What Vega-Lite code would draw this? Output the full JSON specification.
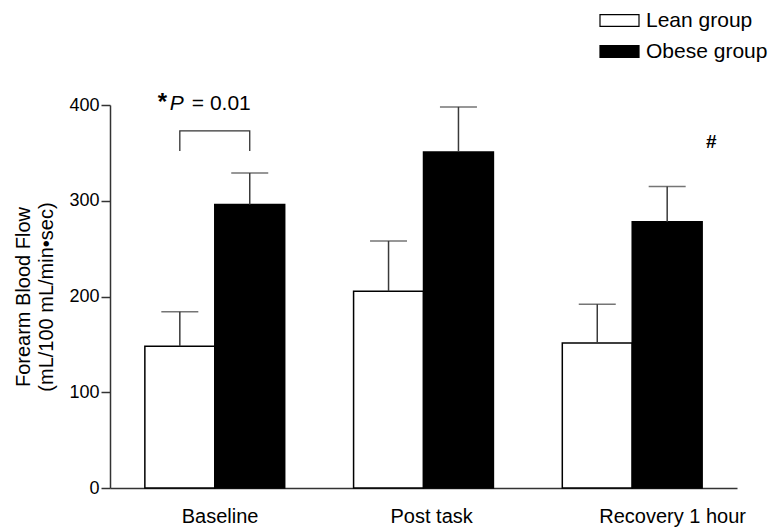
{
  "$schema": "https://vega.github.io/schema/vega-lite/v6.json",
  "width": 627,
  "height": 383,
  "autosize": {"type": "none"},
  "padding": {"left": 110, "top": 105, "right": 36, "bottom": 39},
  "background": "white",
  "config": {"font": "Liberation Sans", "view": {"stroke": null}, "axis": {"grid": false}},
  "datasets": {
    "bars": [
      {"Time": "Baseline", "Group": "Lean group", "mean": 148, "upper": 184},
      {"Time": "Baseline", "Group": "Obese group", "mean": 296, "upper": 329},
      {"Time": "Post task", "Group": "Lean group", "mean": 205.5, "upper": 258},
      {"Time": "Post task", "Group": "Obese group", "mean": 351, "upper": 398},
      {"Time": "Recovery 1 hour", "Group": "Lean group", "mean": 151.5, "upper": 192},
      {"Time": "Recovery 1 hour", "Group": "Obese group", "mean": 278, "upper": 315}
    ],
    "bracket": [
      {"Time": "Baseline", "Group": "Lean group", "y": 352, "o": 1},
      {"Time": "Baseline", "Group": "Lean group", "y": 373, "o": 2},
      {"Time": "Baseline", "Group": "Obese group", "y": 373, "o": 3},
      {"Time": "Baseline", "Group": "Obese group", "y": 352, "o": 4}
    ],
    "notes": [
      {"Time": "Baseline", "y": 401}
    ],
    "hash": [
      {"Time": "Recovery 1 hour", "Group": "Obese group", "y": 361}
    ]
  },
  "layer": [
    {
      "data": {"name": "bars"},
      "mark": {"type": "bar", "stroke": "black", "strokeWidth": 1.5},
      "encoding": {
        "x": {"field": "Time", "type": "nominal", "sort": ["Baseline", "Post task", "Recovery 1 hour"],
          "scale": {"domain": ["Baseline", "Post task", "Recovery 1 hour"], "paddingInner": 0.33, "paddingOuter": 0.167},
          "axis": {"title": null, "ticks": false, "labelAngle": 0, "labelFontSize": 20, "labelPadding": 18, "labelColor": "black",
            "labelAlign": "left", "labelOffset": -33, "domainColor": "#333", "domainWidth": 1.5}},
        "xOffset": {"field": "Group", "type": "nominal", "scale": {"domain": ["Lean group", "Obese group"], "paddingInner": 0, "paddingOuter": 0}},
        "y": {"field": "mean", "type": "quantitative", "scale": {"domain": [0, 400], "nice": false},
          "axis": {"title": ["Forearm Blood Flow", "(mL/100 mL/min•sec)"], "values": [0, 100, 200, 300, 400],
            "tickSize": 9, "tickColor": "#333", "tickWidth": 1.5, "domainColor": "#333", "domainWidth": 1.5,
            "labelFontSize": 18, "labelColor": "black", "labelPadding": 2,
            "titleFontSize": 20, "titleFontWeight": "normal", "titleColor": "black", "titleLineHeight": 23, "titlePadding": 12}},
        "fill": {"field": "Group", "type": "nominal", "scale": {"domain": ["Lean group", "Obese group"], "range": ["white", "black"]},
          "legend": {"orient": "none", "legendX": 489, "legendY": -105, "title": null,
            "symbolType": "M-1,-0.3H1V0.3H-1Z", "symbolSize": 1521, "symbolStrokeColor": "black", "symbolStrokeWidth": 1.2,
            "labelFontSize": 21, "labelOffset": 6, "labelColor": "black", "rowPadding": -9}}
      }
    },
    {
      "data": {"name": "bars"},
      "mark": {"type": "rule", "color": "#3a3a3a", "strokeWidth": 1.5},
      "encoding": {
        "x": {"field": "Time", "type": "nominal", "sort": ["Baseline", "Post task", "Recovery 1 hour"]},
        "xOffset": {"field": "Group", "type": "nominal"},
        "y": {"field": "mean", "type": "quantitative"},
        "y2": {"field": "upper"}
      }
    },
    {
      "data": {"name": "bars"},
      "mark": {"type": "tick", "color": "#3a3a3a", "thickness": 1.5, "size": 37},
      "encoding": {
        "x": {"field": "Time", "type": "nominal", "sort": ["Baseline", "Post task", "Recovery 1 hour"]},
        "xOffset": {"field": "Group", "type": "nominal"},
        "y": {"field": "upper", "type": "quantitative"}
      }
    },
    {
      "data": {"name": "bracket"},
      "mark": {"type": "line", "color": "#333", "strokeWidth": 1.3},
      "encoding": {
        "x": {"field": "Time", "type": "nominal", "sort": ["Baseline", "Post task", "Recovery 1 hour"]},
        "xOffset": {"field": "Group", "type": "nominal"},
        "y": {"field": "y", "type": "quantitative"},
        "order": {"field": "o", "type": "quantitative"}
      }
    },
    {
      "data": {"name": "notes"},
      "mark": {"type": "text", "text": "*", "fontSize": 24, "fontWeight": "bold", "align": "left", "baseline": "middle", "dx": -57, "dy": -1, "color": "black"},
      "encoding": {
        "x": {"field": "Time", "type": "nominal", "sort": ["Baseline", "Post task", "Recovery 1 hour"]},
        "y": {"field": "y", "type": "quantitative"}
      }
    },
    {
      "data": {"name": "notes"},
      "mark": {"type": "text", "text": "P", "fontSize": 21, "fontStyle": "italic", "align": "left", "baseline": "middle", "dx": -45, "color": "black"},
      "encoding": {
        "x": {"field": "Time", "type": "nominal", "sort": ["Baseline", "Post task", "Recovery 1 hour"]},
        "y": {"field": "y", "type": "quantitative"}
      }
    },
    {
      "data": {"name": "notes"},
      "mark": {"type": "text", "text": "= 0.01", "fontSize": 21, "align": "left", "baseline": "middle", "dx": -23, "color": "black"},
      "encoding": {
        "x": {"field": "Time", "type": "nominal", "sort": ["Baseline", "Post task", "Recovery 1 hour"]},
        "y": {"field": "y", "type": "quantitative"}
      }
    },
    {
      "data": {"name": "hash"},
      "mark": {"type": "text", "text": "#", "fontSize": 19, "fontWeight": "bold", "align": "center", "baseline": "middle", "dx": 44, "color": "black"},
      "encoding": {
        "x": {"field": "Time", "type": "nominal", "sort": ["Baseline", "Post task", "Recovery 1 hour"]},
        "xOffset": {"field": "Group", "type": "nominal"},
        "y": {"field": "y", "type": "quantitative"}
      }
    }
  ]
}
